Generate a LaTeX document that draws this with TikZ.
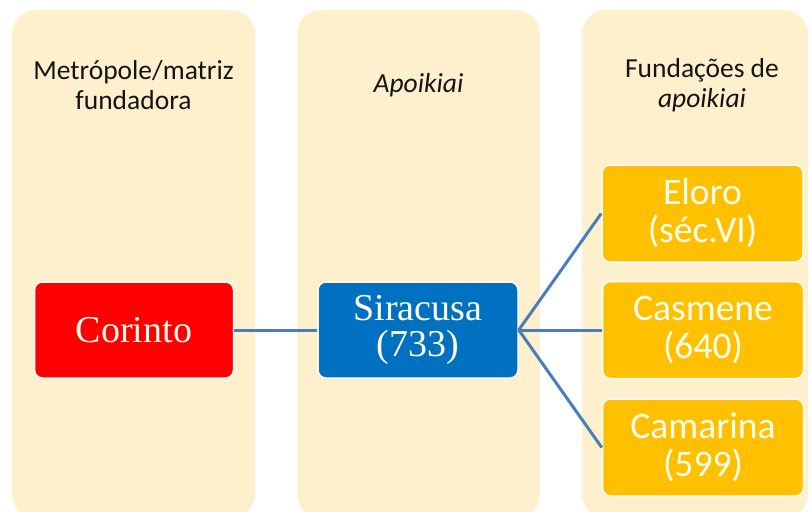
\documentclass[tikz,border=0pt]{standalone}
\usepackage{fontspec}
\setmainfont{Carlito}
\newfontfamily\tnr{Liberation Serif}
\definecolor{colbg}{HTML}{FFF0CD}
\definecolor{redbox}{HTML}{FF0000}
\definecolor{bluebox}{HTML}{0070C0}
\definecolor{goldbox}{HTML}{FFC000}
\definecolor{linkc}{HTML}{4A7EBB}
\definecolor{hdr}{HTML}{141414}
\definecolor{boxtext}{HTML}{FFFDF0}
\begin{document}
\begin{tikzpicture}[x=1pt,y=-1pt,
  colbox/.style={fill=colbg, rounded corners=24pt, inner sep=0pt, anchor=center},
  hdrtext/.style={text=hdr, align=center, inner sep=0pt, font=\fontsize{27.5}{30}\selectfont},
  serifbox/.style={draw=white, line width=1.5pt, rounded corners=8pt, inner sep=0pt,
    minimum width=199pt, minimum height=96pt, align=center, text=boxtext,
    font=\tnr\fontsize{38}{36}\selectfont},
  goldbox/.style={draw=white, line width=1.5pt, rounded corners=8pt, inner sep=0pt,
    fill=goldbox, minimum width=201pt, minimum height=97pt, align=center, text=boxtext,
    font=\fontsize{37.5}{38}\selectfont},
  link/.style={draw=linkc, line width=3pt}
]
\useasboundingbox (0,0) rectangle (810,511);
\clip (0,0) rectangle (810,511);
% columns
\node[colbox, minimum width=243pt, minimum height=508pt] (col1) at (133.5,264) {};
\node[colbox, minimum width=243pt, minimum height=508pt] (col2) at (418.5,264) {};
\node[colbox, minimum width=226pt, minimum height=508pt] (col3) at (695,264) {};
% headers
\node[hdrtext] (h1) at (133.5,85) {Metrópole/matriz\\fundadora};
\node[hdrtext] (h2) at (418.5,85) {\itshape Apoikiai};
\node[hdrtext] (h3) at (702,85) {Fundações de\\\itshape apoikiai};
% boxes
\node[serifbox, fill=redbox] (corinto) at (134,330) {Corinto};
\node[serifbox, fill=bluebox, minimum width=200pt] (siracusa) at (418,330) {Siracusa\\(733)};
\node[goldbox] (eloro) at (702.5,213.5) {Eloro\\(séc.VI)};
\node[goldbox] (casmene) at (703,330) {Casmene\\(640)};
\node[goldbox] (camarina) at (703,447.5) {Camarina\\(599)};
% connectors
\draw[link] (corinto.east) -- (siracusa.west);
\draw[link] (siracusa.east) -- (eloro.west);
\draw[link] (siracusa.east) -- (casmene.west);
\draw[link] (siracusa.east) -- (camarina.west);
\end{tikzpicture}
\end{document}
